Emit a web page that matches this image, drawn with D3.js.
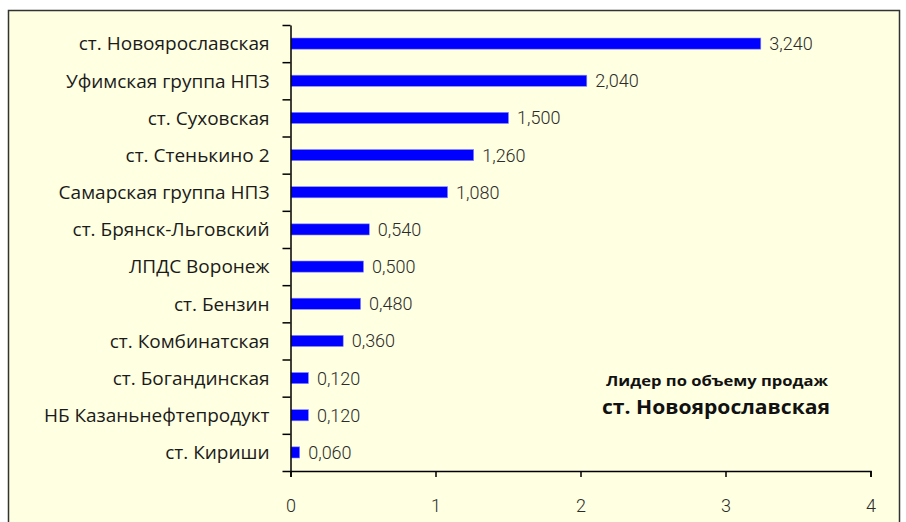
<!DOCTYPE html>
<html>
<head>
<meta charset="utf-8">
<script src="https://cdn.jsdelivr.net/npm/d3@7"></script>
<style>
  body { margin: 0; background: #fff; }
  svg { display: block; }
  .cat { font-family: "Open Sans", sans-serif; font-size: 19px; fill: #1a1a1a; }
  .val { font-family: Roboto, sans-serif; font-weight: 300; font-size: 18px; fill: #2b2b2b; }
  .xaxis text { font-family: Roboto, sans-serif; font-weight: 300; font-size: 18px; fill: #2b2b2b; }
  .note { font-family: "Open Sans", sans-serif; font-weight: 700; fill: #111; }
</style>
</head>
<body>
<div class="chart"></div>
<script>
// data
var stations = ["ст. Новоярославская", "Уфимская группа НПЗ", "ст. Суховская", "ст. Стенькино 2",
  "Самарская группа НПЗ", "ст. Брянск-Льговский", "ЛПДС Воронеж", "ст. Бензин",
  "ст. Комбинатская", "ст. Богандинская", "НБ Казаньнефтепродукт", "ст. Кириши"];
var volumes = [3.24, 2.04, 1.5, 1.26, 1.08, 0.54, 0.5, 0.48, 0.36, 0.12, 0.12, 0.06];
var xTicks = [0, 1, 2, 3, 4];
var noteLines = ["Лидер по объему продаж", "ст. Новоярославская"];

var svgWidth = 906, svgHeight = 522;
var margin = { top: 25, left: 290.5 };
var width = 580, height = 446;

var svg = d3.select(".chart").append("svg")
  .attr("width", svgWidth)
  .attr("height", svgHeight);

// frame
svg.append("rect")
  .attr("x", 8.5).attr("y", 10.5)
  .attr("width", 891).attr("height", 530)
  .attr("fill", "#ffffe1")
  .attr("stroke", "#333")
  .attr("stroke-width", 1.5);

var g = svg.append("g")
  .attr("transform", `translate(${margin.left}, ${margin.top})`);

// scales
var x = d3.scaleLinear().domain([0, 4]).range([0, width]);
var y = d3.scaleBand().domain(stations).range([0, height]).paddingInner(0.7).paddingOuter(0.35);
var yEdge = d3.scaleLinear().domain([0, stations.length]).range([0, height]);

// bars
g.selectAll("rect.bar")
  .data(volumes)
  .enter().append("rect")
  .attr("class", "bar")
  .attr("x", 0.5)
  .attr("y", (d, i) => y(stations[i]))
  .attr("width", d => x(d))
  .attr("height", y.bandwidth())
  .attr("fill", "#0000ff")
  .attr("stroke", "#8c8cff")
  .attr("stroke-width", 0.6);

// value labels
g.selectAll("text.val")
  .data(volumes)
  .enter().append("text")
  .attr("class", "val")
  .attr("x", d => x(d) + 9)
  .attr("y", (d, i) => y(stations[i]) + y.bandwidth() / 2)
  .attr("dy", "0.36em")
  .text(d => d3.format(".3f")(d).replace(".", ","));

// x axis
var xAxis = g.append("g")
  .attr("class", "xaxis")
  .attr("transform", `translate(0, ${height})`)
  .call(d3.axisBottom(x).tickValues(xTicks).tickSize(6).tickSizeOuter(6).tickPadding(22).tickFormat(d3.format("d")));
xAxis.selectAll("path, line").attr("stroke", "#000").attr("stroke-width", 1.5);

// y axis, ticks on category edges
var yAxis = g.append("g")
  .call(d3.axisLeft(yEdge).tickValues(d3.range(stations.length + 1)).tickSize(8).tickSizeOuter(0).tickFormat(""));
yAxis.selectAll("path, line").attr("stroke", "#000").attr("stroke-width", 1.5);

// category labels
g.selectAll("text.cat")
  .data(stations)
  .enter().append("text")
  .attr("class", "cat")
  .attr("x", -21)
  .attr("y", d => y(d) + y.bandwidth() / 2)
  .attr("dy", "0.36em")
  .attr("text-anchor", "end")
  .text(d => d);

// annotation
svg.append("text").attr("class", "note")
  .attr("x", 717).attr("y", 386)
  .attr("text-anchor", "middle")
  .attr("textLength", 222)
  .attr("lengthAdjust", "spacingAndGlyphs")
  .style("font-size", "15px")
  .text(noteLines[0]);
svg.append("text").attr("class", "note")
  .attr("x", 716).attr("y", 414)
  .attr("text-anchor", "middle")
  .attr("textLength", 228)
  .attr("lengthAdjust", "spacingAndGlyphs")
  .style("font-size", "19px")
  .text(noteLines[1]);
</script>
</body>
</html>
